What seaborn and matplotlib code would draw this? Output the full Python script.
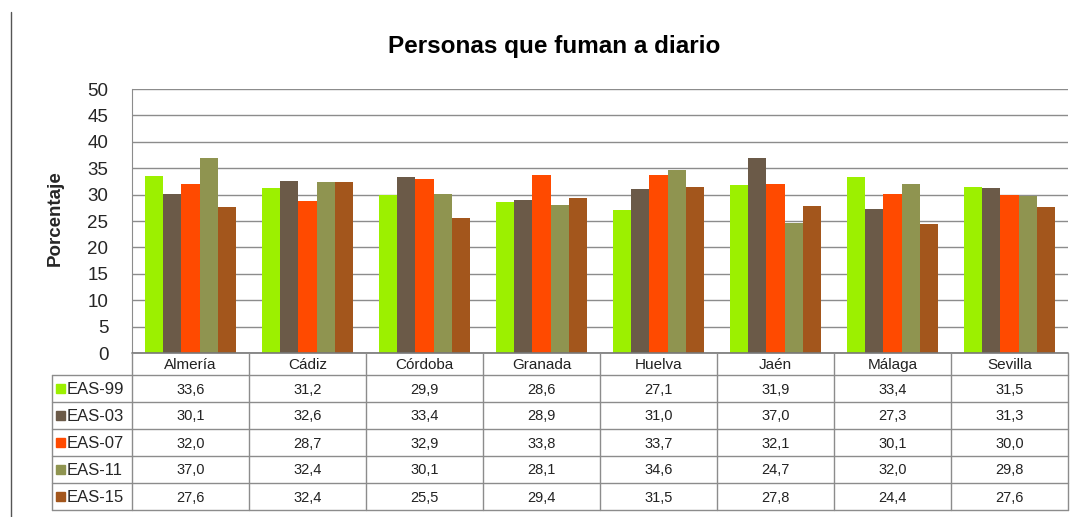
import numpy as np
import pandas as pd
import matplotlib.pyplot as plt
import matplotlib.patches as mpatches
from matplotlib.lines import Line2D
import seaborn as sns

provincias = ['Almería', 'Cádiz', 'Córdoba', 'Granada', 'Huelva', 'Jaén', 'Málaga', 'Sevilla']
encuestas = ['EAS-99', 'EAS-03', 'EAS-07', 'EAS-11', 'EAS-15']
eas99 = [33.6, 31.2, 29.9, 28.6, 27.1, 31.9, 33.4, 31.5]
eas03 = [30.1, 32.6, 33.4, 28.9, 31.0, 37.0, 27.3, 31.3]
eas07 = [32.0, 28.7, 32.9, 33.8, 33.7, 32.1, 30.1, 30.0]
eas11 = [37.0, 32.4, 30.1, 28.1, 34.6, 24.7, 32.0, 29.8]
eas15 = [27.6, 32.4, 25.5, 29.4, 31.5, 27.8, 24.4, 27.6]
colores = ['#9cf000', '#6b5a48', '#ff4a00', '#8f9450', '#a3561c']

series = [eas99, eas03, eas07, eas11, eas15]
df = pd.DataFrame([
    {'provincia': p, 'encuesta': e, 'valor': v}
    for e, vals in zip(encuestas, series)
    for p, v in zip(provincias, vals)
])

sns.set_style('white')
plt.rcParams['font.family'] = ['Liberation Sans', 'DejaVu Sans']

W, H = 1079, 517
fig = plt.figure(figsize=(W / 100, H / 100), dpi=100)
grid_c = '#8c8c8c'

# bar area
x0, x1, ytop, ybot = 132, 1068, 89, 353
ax = fig.add_axes([x0 / W, 1 - ybot / H, (x1 - x0) / W, (ybot - ytop) / H])
sns.barplot(data=df, x='provincia', y='valor', hue='encuesta', palette=colores,
            width=0.77, saturation=1, errorbar=None, legend=False, ax=ax,
            linewidth=0, zorder=3)
ax.set_ylim(0, 50)
ax.set_xlim(-0.5, len(provincias) - 0.5)
ax.set_yticks(np.arange(0, 51, 5))
ax.tick_params(axis='y', labelsize=13.5, length=0, pad=17)
ax.set_xticks([])
ax.set_xlabel('')
ax.set_ylabel('')
ax.yaxis.grid(True, color=grid_c, lw=1)
ax.set_axisbelow(True)
for s in ['top', 'right', 'bottom']:
    ax.spines[s].set_visible(False)
ax.spines['left'].set_color(grid_c)

fig.text(554 / W, 1 - 47 / H, 'Personas que fuman a diario', ha='center', va='center',
         fontsize=17.5, fontweight='bold', color='black')
fig.text(55 / W, 1 - 218 / H, 'Porcentaje', ha='center', va='center', rotation=90,
         fontsize=13.5, fontweight='bold')
fig.add_artist(Line2D([11 / W, 11 / W], [0, 1 - 12 / H], color='#555555', lw=1))

# data table
t0, t1, tt, tb = 52, 1068, 353, 510
tax = fig.add_axes([t0 / W, 1 - tb / H, (t1 - t0) / W, (tb - tt) / H])
tw, th = t1 - t0, tb - tt
tax.set_xlim(0, tw)
tax.set_ylim(th, 0)
tax.axis('off')
lab_w = x0 - t0
col_w = (x1 - x0) / len(provincias)
head_h = 22
row_h = (th - head_h) / len(encuestas)

tax.plot([lab_w, tw], [0, 0], color='#777777', lw=1.2, clip_on=False)
for k in range(len(provincias) + 1):
    xx = lab_w + col_w * k
    tax.plot([xx, xx], [0, th], color=grid_c, lw=1, clip_on=False)
tax.plot([0, 0], [head_h, th], color=grid_c, lw=1, clip_on=False)
for r in range(len(encuestas) + 1):
    yy = head_h + row_h * r
    tax.plot([0, tw], [yy, yy], color=grid_c, lw=1, clip_on=False)

for k, p in enumerate(provincias):
    tax.text(lab_w + col_w * (k + 0.5), head_h / 2 + 1, p, ha='center', va='center',
             fontsize=11, color='#222222')

for r, (e, vals, c) in enumerate(zip(encuestas, series, colores)):
    yc = head_h + row_h * (r + 0.5)
    tax.add_patch(mpatches.Rectangle((4, yc - 4.5), 9, 9, color=c))
    tax.text(15, yc + 1, e, ha='left', va='center', fontsize=12)
    for k, v in enumerate(vals):
        tax.text(lab_w + col_w * (k + 0.5), yc + 1, f'{v:.1f}'.replace('.', ','),
                 ha='center', va='center', fontsize=10.5, color='#222222')

fig.savefig('out.png', dpi=100, facecolor='white')
